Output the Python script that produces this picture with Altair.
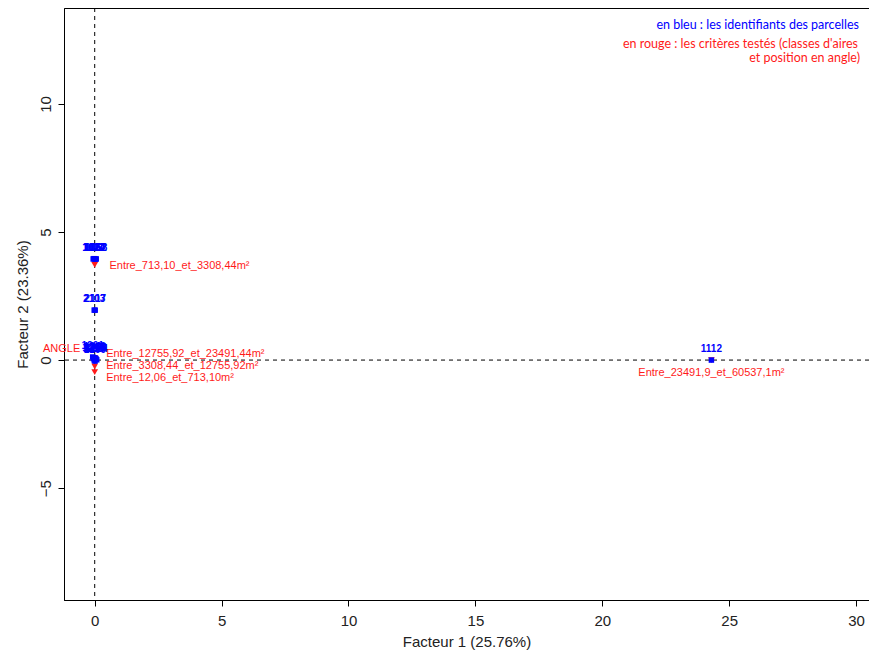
import altair as alt
import pandas as pd

# Individuals (blue): identifiers and coordinates on the two factors
ind_ids = ["1011", "1024", "1037", "1052", "1068",
           "2103", "2117",
           "1201", "1215", "1229", "1243", "1256", "1270", "1284", "1299",
           "1112"]
ind_x = [-0.06, -0.03, 0.00, 0.03, 0.06,
         -0.02, 0.02,
         -0.08, -0.05, -0.02, 0.00, 0.02, 0.05, 0.08, 0.01,
         24.3]
ind_y = [3.95, 3.96, 3.95, 3.94, 3.95,
         1.95, 1.95,
         0.12, 0.06, 0.00, 0.09, 0.03, 0.06, 0.01, -0.04,
         0.00]

# Categories (red): tested criteria
cat_labels = ["Entre_713,10_et_3308,44m²", "ANGLE",
              "Entre_12755,92_et_23491,44m²", "Entre_3308,44_et_12755,92m²",
              "Entre_12,06_et_713,10m²", "Entre_23491,9_et_60537,1m²"]
cat_x = [0.0, 0.0, 0.0, 0.0, 0.0, 24.3]
cat_y = [3.72, 0.08, -0.05, -0.25, -0.47, 0.0]
cat_label_x = [0.58, -0.57, 0.45, 0.45, 0.45, 24.3]
cat_label_y = [3.68, 0.45, 0.22, -0.24, -0.70, -0.52]
cat_align = ["left", "right", "left", "left", "left", "center"]

x_ticks = [0, 5, 10, 15, 20, 25, 30]
y_ticks = [-5, 0, 5, 10]
x_domain = [-1.21, 30.51]
y_domain = [-9.37, 13.75]

ind = pd.DataFrame({"id": ind_ids, "x": ind_x, "y": ind_y})
cat = pd.DataFrame({"label": cat_labels, "x": cat_x, "y": cat_y,
                    "lx": cat_label_x, "ly": cat_label_y, "align": cat_align})

BLUE = "#0000FF"
RED = "#FF1A1A"
FONT = "Liberation Sans"

xs = alt.Scale(domain=x_domain, nice=False, zero=False)
ys = alt.Scale(domain=y_domain, nice=False, zero=False)

xaxis = alt.Axis(values=x_ticks, title="Facteur 1 (25.76%)", grid=False,
                 tickSize=6, labelPadding=7, titlePadding=6,
                 labelFontSize=15, titleFontSize=15, labelFont=FONT, titleFont=FONT,
                 labelColor="#222", titleColor="#222", titleFontWeight="normal",
                 domainColor="black", tickColor="black")
yaxis = alt.Axis(values=y_ticks, title="Facteur 2 (23.36%)", grid=False,
                 tickSize=6, labelAngle=270, labelAlign="center", labelBaseline="bottom",
                 labelPadding=5, titlePadding=8,
                 labelFontSize=15, titleFontSize=15, labelFont=FONT, titleFont=FONT,
                 labelColor="#222", titleColor="#222", titleFontWeight="normal",
                 domainColor="black", tickColor="black")

base_x = alt.X("x:Q", scale=xs, axis=xaxis)
base_y = alt.Y("y:Q", scale=ys, axis=yaxis)

zero_df = pd.DataFrame({"x": [0.0], "y": [0.0]})
vrule = alt.Chart(zero_df).mark_rule(color="black", strokeDash=[4, 4], strokeWidth=1).encode(
    x=base_x)
hrule = alt.Chart(zero_df).mark_rule(color="black", strokeDash=[4, 4], strokeWidth=1).encode(
    y=base_y)

red_pts = alt.Chart(cat).mark_point(shape="triangle-down", filled=True, size=45,
                                    color=RED, opacity=1).encode(x=base_x, y=base_y)
blue_pts = alt.Chart(ind).mark_point(shape="square", filled=True, size=30,
                                     color=BLUE, opacity=1).encode(x=base_x, y=base_y)
blue_txt = alt.Chart(ind).mark_text(fontSize=10, fontWeight="bold", color=BLUE, dy=-11,
                                    font=FONT).encode(x=base_x, y=base_y, text="id:N")

red_layers = []
for al in ["left", "right", "center"]:
    red_layers.append(
        alt.Chart(cat).transform_filter(alt.datum.align == al).mark_text(
            fontSize=11, color=RED, align=al, baseline="middle", font=FONT
        ).encode(x=alt.X("lx:Q", scale=xs, axis=xaxis), y=alt.Y("ly:Q", scale=ys, axis=yaxis),
                 text="label:N")
    )

note_df = pd.DataFrame({"t": [0]})
note1 = alt.Chart(note_df).mark_text(text="en bleu : les identifiants des parcelles",
                                     color=BLUE, fontSize=12.5, align="right", font="Lato").encode(
    x=alt.value(795), y=alt.value(17))
note2 = alt.Chart(note_df).mark_text(text="en rouge : les critères testés (classes d'aires",
                                     color=RED, fontSize=12.5, align="right", font="Lato").encode(
    x=alt.value(794), y=alt.value(36))
note3 = alt.Chart(note_df).mark_text(text="et position en angle)",
                                     color=RED, fontSize=12.5, align="right", font="Lato").encode(
    x=alt.value(796), y=alt.value(50))

chart = alt.layer(vrule, hrule, red_pts, blue_pts, blue_txt, *red_layers, note1, note2, note3).properties(
    width=805, height=592,
    autosize=alt.AutoSizeParams(type="none"),
    padding={"left": 56, "top": 0, "right": 0, "bottom": 50},
    background="white",
).configure_view(stroke="black", strokeWidth=1)

chart.save("out.html", embed_options={"renderer": "svg", "actions": False})
